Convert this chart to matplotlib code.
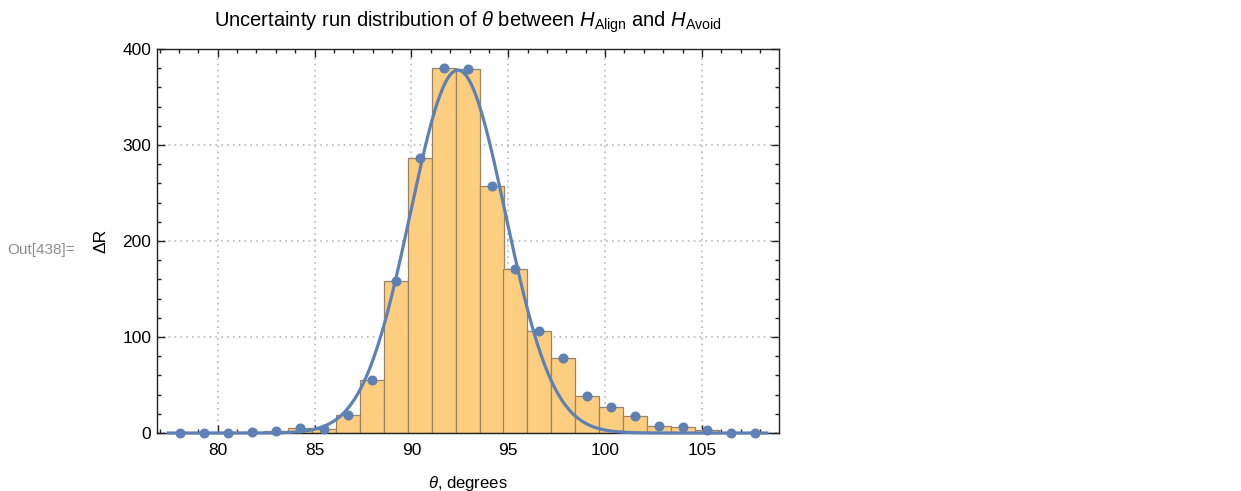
import numpy as np
import matplotlib
matplotlib.use('Agg')
import matplotlib.pyplot as plt
from matplotlib.ticker import MultipleLocator

plt.rcParams['font.family'] = ['Liberation Sans', 'DejaVu Sans']
plt.rcParams['mathtext.fontset'] = 'custom'
plt.rcParams['mathtext.rm'] = 'Liberation Sans'
plt.rcParams['mathtext.it'] = 'Liberation Sans:italic'

# histogram bin centres (degrees) and counts
bin_centers = [78.07, 79.30, 80.54, 81.78, 83.01, 84.25, 85.48, 86.72, 87.96,
               89.19, 90.43, 91.67, 92.90, 94.14, 95.37, 96.61, 97.85, 99.08,
               100.32, 101.55, 102.79, 104.03, 105.26, 106.50, 107.73]
counts = [0, 0, 0, 1, 2, 5, 4, 19, 55, 158, 286, 380, 379, 257, 171, 106,
          78, 39, 27, 18, 7, 6, 3, 0, 0]
bin_width = 1.236

# fitted gaussian
fit_amp = 378.0
fit_mu = 92.4
fit_sigma = 2.45
fit_range = (77.45, 108.35)

blue = '#5E81B5'

fig = plt.figure(figsize=(12.41, 4.91), dpi=100)
ax = fig.add_axes([0.1263, 0.1181, 0.5014, 0.7821])

ax.bar(bin_centers, counts, width=bin_width, color='#FDCE7F',
       edgecolor='#9c8361', linewidth=0.9, zorder=2)

xs = np.linspace(fit_range[0], fit_range[1], 400)
ax.plot(xs, fit_amp * np.exp(-0.5 * ((xs - fit_mu) / fit_sigma) ** 2),
        color=blue, lw=2.3, zorder=3, clip_on=False)
ax.plot(bin_centers, counts, 'o', color=blue, ms=6.2, zorder=4, clip_on=False)

ax.set_xlim(76.85, 108.98)
ax.set_ylim(0, 400)
ax.xaxis.set_major_locator(MultipleLocator(5))
ax.xaxis.set_minor_locator(MultipleLocator(1))
ax.yaxis.set_major_locator(MultipleLocator(100))
ax.yaxis.set_minor_locator(MultipleLocator(20))
ax.tick_params(which='both', direction='in', top=True, right=True,
               labeltop=False, labelright=False, width=1, color='#222222')
ax.tick_params(which='major', length=5.5, labelsize=12.5)
ax.tick_params(axis='x', which='major', pad=7)
ax.tick_params(axis='y', which='major', pad=4)
ax.tick_params(which='minor', length=3)
for s in ax.spines.values():
    s.set_color('#222222')
    s.set_linewidth(1.0)

ax.grid(True, which='major', color='#b8b8b8', linestyle=(0, (1, 2.5)), lw=1.2, zorder=0)
ax.set_axisbelow(True)

ax.set_xlabel(r'$\theta$, degrees', fontsize=12, labelpad=12)
ax.set_ylabel(r'ΔR', fontsize=12.5, labelpad=10)
ax.set_title(r'Uncertainty run distribution of $\theta$ between '
             r'$H_{\mathrm{Align}}$ and $H_{\mathrm{Avoid}}$', fontsize=14.5, pad=16)

fig.text(0.0056, 0.49, 'Out[438]=', fontsize=11, color='#8c8c8c', va='center')

fig.savefig('out.png', dpi=100)
